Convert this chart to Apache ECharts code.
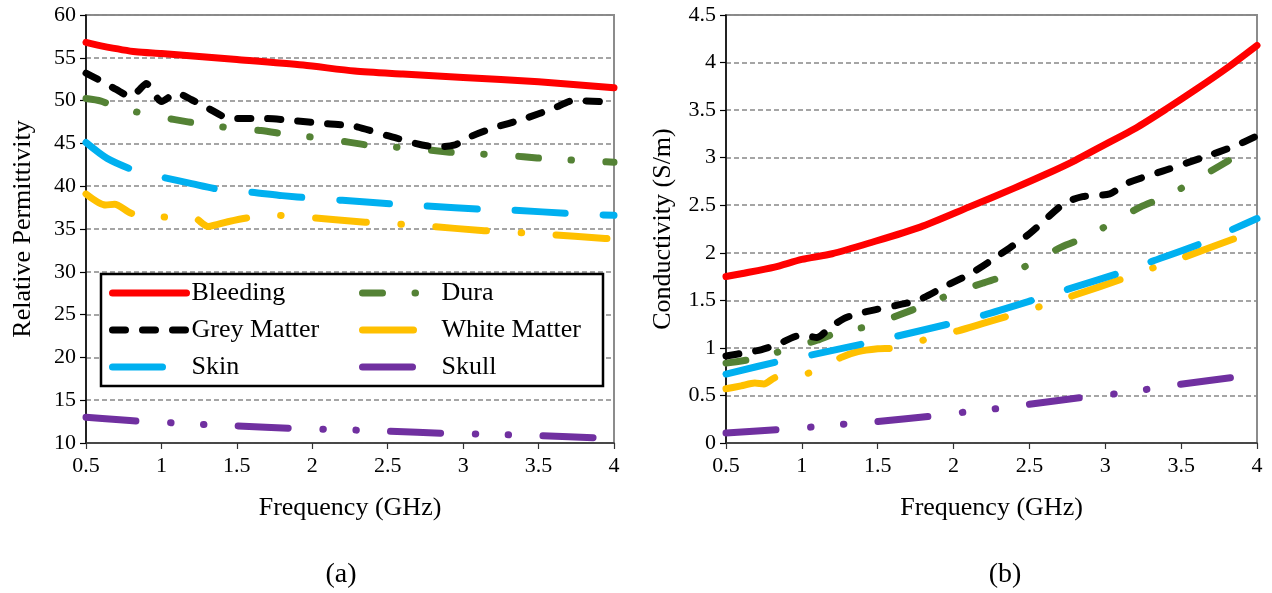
<!DOCTYPE html>
<html>
<head>
<meta charset="utf-8">
<script src="https://cdn.jsdelivr.net/npm/echarts@6/dist/echarts.min.js"></script>
<style>
  html, body { margin: 0; padding: 0; background: #fff; }
  #chart { width: 1272px; height: 593px; }
</style>
</head>
<body>
<div id="chart"></div>
<script>
// Dielectric properties of head tissues, 0.5–4 GHz: [frequency GHz, value]

// (a) relative permittivity
const bleedingPerm = [[0.5,56.8],[0.6,56.4],[0.83,55.7],[1.0,55.5],[1.5,54.8],[1.94,54.15],[2.28,53.45],[2.6,53.1],[3.0,52.7],[3.5,52.2],[4.0,51.5]];
const duraPerm = [[0.5,50.25],[0.6,49.95],[0.69,49.3],[0.88,48.5],[1.08,47.8],[1.27,47.25],[1.46,46.8],[1.66,46.5],[1.85,46.0],[2.04,45.66],[2.24,45.15],[2.41,44.7],[2.62,44.5],[2.82,44.14],[3.0,43.83],[3.2,43.7],[3.4,43.44],[3.58,43.17],[3.78,43.0],[4.0,42.8]];
const greyPerm = [[0.5,53.2],[0.6,52.3],[0.7,51.3],[0.8,50.45],[0.85,51.2],[0.9,52.0],[0.95,50.8],[1.0,49.9],[1.1,50.9],[1.2,50.1],[1.3,49.2],[1.46,47.9],[1.69,47.9],[1.85,47.7],[2.1,47.3],[2.28,47.0],[2.5,45.9],[2.82,44.6],[2.94,44.8],[3.05,45.8],[3.2,46.8],[3.41,47.9],[3.6,49.1],[3.73,50.0],[4.0,49.8]];
const whitePerm = [[0.5,39.1],[0.63,37.8],[0.69,37.9],[0.81,36.8],[0.86,37.2],[1.02,36.4],[1.21,36.36],[1.31,35.3],[1.44,35.85],[1.57,36.3],[1.76,36.6],[1.96,36.36],[2.35,35.8],[2.55,35.6],[2.75,35.35],[3.14,34.8],[3.34,34.6],[3.54,34.4],[3.94,33.9],[4.0,33.85]];
const skinPerm = [[0.5,45.1],[0.64,43.25],[0.83,41.8],[1.02,41.0],[1.2,40.3],[1.39,39.6],[1.6,39.3],[1.8,38.9],[2.0,38.6],[2.2,38.35],[2.56,37.9],[2.75,37.7],[3.14,37.3],[3.33,37.2],[3.72,36.8],[4.0,36.6]];
const skullPerm = [[0.5,13.0],[0.7,12.75],[0.88,12.5],[1.08,12.35],[1.29,12.15],[1.5,12.0],[1.88,11.7],[2.08,11.6],[2.3,11.5],[2.5,11.37],[2.89,11.13],[3.09,11.05],[3.3,10.95],[3.5,10.85],[3.9,10.6],[4.0,10.55]];

// (b) conductivity, S/m
const bleedingCond = [[0.5,1.75],[0.6,1.78],[0.82,1.85],[1.0,1.93],[1.2,1.99],[1.44,2.1],[1.78,2.27],[2.1,2.48],[2.4,2.68],[2.6,2.82],[2.8,2.97],[3.0,3.14],[3.2,3.31],[3.4,3.51],[3.6,3.72],[3.8,3.94],[4.0,4.18]];
const duraCond = [[0.5,0.84],[0.7,0.89],[0.89,0.98],[1.1,1.08],[1.25,1.17],[1.45,1.23],[1.64,1.345],[1.81,1.45],[1.99,1.57],[2.19,1.68],[2.36,1.77],[2.53,1.905],[2.71,2.06],[2.88,2.17],[3.06,2.33],[3.23,2.48],[3.41,2.6],[3.58,2.75],[3.75,2.91],[3.9,3.05],[4.0,3.12]];
const greyCond = [[0.5,0.915],[0.63,0.95],[0.73,0.98],[0.83,1.03],[1.0,1.135],[1.1,1.11],[1.19,1.22],[1.28,1.31],[1.37,1.36],[1.48,1.4],[1.69,1.47],[1.78,1.51],[1.96,1.66],[2.1,1.77],[2.23,1.9],[2.5,2.2],[2.73,2.52],[2.85,2.59],[3.03,2.62],[3.14,2.73],[3.4,2.87],[3.64,3.0],[3.85,3.12],[4.0,3.23]];
const whiteCond = [[0.5,0.57],[0.6,0.6],[0.69,0.63],[0.75,0.62],[0.83,0.69],[0.88,0.67],[1.07,0.75],[1.26,0.9],[1.37,0.96],[1.5,0.99],[1.62,1.0],[1.82,1.09],[2.03,1.18],[2.2,1.26],[2.39,1.35],[2.58,1.44],[2.78,1.545],[3.14,1.74],[3.33,1.85],[3.53,1.96],[3.89,2.17],[4.0,2.22]];
const skinCond = [[0.5,0.725],[0.87,0.865],[1.06,0.925],[1.44,1.055],[1.63,1.124],[2.0,1.264],[2.2,1.345],[2.56,1.52],[2.74,1.61],[3.12,1.8],[3.3,1.905],[3.66,2.115],[3.83,2.24],[4.0,2.36]];
const skullCond = [[0.5,0.105],[0.88,0.145],[1.08,0.17],[1.29,0.2],[1.49,0.225],[1.88,0.287],[2.08,0.326],[2.3,0.364],[2.49,0.406],[2.89,0.487],[3.08,0.52],[3.3,0.57],[3.49,0.616],[3.88,0.697],[4.0,0.72]];

const tissueNames = ['Bleeding', 'Dura', 'Grey Matter', 'White Matter', 'Skin', 'Skull'];
const legendColumnA = ['Bleeding', 'Grey Matter', 'Skin'];
const legendColumnB = ['Dura', 'White Matter', 'Skull'];
const freqTicks = { min: 0.5, max: 4, interval: 0.5 };
const permTicks = { min: 10, max: 60, interval: 5 };
const condTicks = { min: 0, max: 4.5, interval: 0.5 };

const FONT = '"Liberation Serif", "Times New Roman", serif';

// line look per tissue: colour and dash pattern (dash, gap, dot, gap ...)
const tissueStyle = {
  'Bleeding':     { color: '#FF0000', type: 'solid' },
  'Dura':         { color: '#548235', type: [20, 32.5, 0.5, 34.5] },
  'Grey Matter':  { color: '#000000', type: [13, 17] },
  'White Matter': { color: '#FFC000', type: [51, 34.5, 0.5, 34.5] },
  'Skin':         { color: '#00B0F0', type: [50, 38] },
  'Skull':        { color: '#7030A0', type: [50, 34.5, 0.5, 32.5, 0.5, 34.5] }
};

function tissueSeries(name, data, idx) {
  const st = tissueStyle[name];
  return {
    type: 'line', name: name, data: data,
    xAxisIndex: idx, yAxisIndex: idx,
    symbol: 'none', smooth: 0.25,
    color: st.color,
    lineStyle: { color: st.color, width: 7, type: st.type, cap: 'round', join: 'round' },
    emphasis: { disabled: true },
    animation: false
  };
}

function xAxisDef(idx) {
  return {
    type: 'value', gridIndex: idx,
    min: freqTicks.min, max: freqTicks.max, interval: freqTicks.interval,
    name: 'Frequency (GHz)', nameLocation: 'middle', nameGap: 52,
    nameTextStyle: { fontFamily: FONT, fontSize: 26, color: '#000' },
    axisLine: { lineStyle: { color: '#333', width: 1.5 } },
    axisTick: { show: true, inside: false, length: 6, lineStyle: { color: '#333', width: 1.2 } },
    axisLabel: { fontFamily: FONT, fontSize: 22, color: '#000', margin: 12 },
    splitLine: { show: false }
  };
}

function yAxisDef(idx, ticks, name, gap) {
  return {
    type: 'value', gridIndex: idx,
    min: ticks.min, max: ticks.max, interval: ticks.interval,
    name: name, nameLocation: 'middle', nameGap: gap, nameRotate: 90,
    nameTextStyle: { fontFamily: FONT, fontSize: 26, color: '#000' },
    axisLine: { show: true, lineStyle: { color: '#000', width: 1.5 } },
    axisTick: { show: true, inside: false, length: 6, lineStyle: { color: '#000', width: 1.2 } },
    axisLabel: { fontFamily: FONT, fontSize: 22, color: '#000', margin: 10 },
    splitLine: { show: true, lineStyle: { color: '#888', width: 1.5, type: [5, 3] } }
  };
}

function legendColumn(names, left) {
  return {
    data: names,
    left: left, top: 274,
    orient: 'vertical',
    padding: [6, 8, 6, 8],
    itemWidth: 74, itemHeight: 7, itemGap: 11,
    selectedMode: false,
    z: 6,
    lineStyle: { width: 7, cap: 'round' },
    itemStyle: { opacity: 0 },
    textStyle: { fontFamily: FONT, fontSize: 26, color: '#000', padding: [0, 0, 0, 0] }
  };
}

const chart = echarts.init(document.getElementById('chart'), null, { renderer: 'canvas' });

const series = [];
const permSets = [bleedingPerm, duraPerm, greyPerm, whitePerm, skinPerm, skullPerm];
const condSets = [bleedingCond, duraCond, greyCond, whiteCond, skinCond, skullCond];
tissueNames.forEach((n, i) => series.push(tissueSeries(n, permSets[i], 0)));
tissueNames.forEach((n, i) => series.push(tissueSeries(n, condSets[i], 1)));

chart.setOption({
  backgroundColor: '#fff',
  animation: false,
  title: [
    { text: '(a)', left: 336, top: 556, textAlign: 'center',
      textStyle: { fontFamily: FONT, fontSize: 28, fontWeight: 'normal', color: '#000' } },
    { text: '(b)', left: 1000, top: 556, textAlign: 'center',
      textStyle: { fontFamily: FONT, fontSize: 28, fontWeight: 'normal', color: '#000' } }
  ],
  grid: [
    { left: 86, top: 15, width: 528, height: 428, show: true, borderColor: '#8c8c8c', borderWidth: 2, backgroundColor: 'transparent' },
    { left: 726, top: 15, width: 531, height: 428, show: true, borderColor: '#8c8c8c', borderWidth: 2, backgroundColor: 'transparent' }
  ],
  // white legend frame with a black outline, holding two legend columns
  graphic: [{
    type: 'rect', z: 5, silent: true,
    shape: { x: 101, y: 274, width: 502, height: 112 },
    style: { fill: '#fff', stroke: '#000', lineWidth: 2.5 }
  }],
  legend: [legendColumn(legendColumnA, 101), legendColumn(legendColumnB, 351)],
  xAxis: [xAxisDef(0), xAxisDef(1)],
  yAxis: [
    yAxisDef(0, permTicks, 'Relative Permittivity', 50),
    yAxisDef(1, condTicks, 'Conductivity (S/m)', 50)
  ],
  series: series
});
</script>
</body>
</html>
